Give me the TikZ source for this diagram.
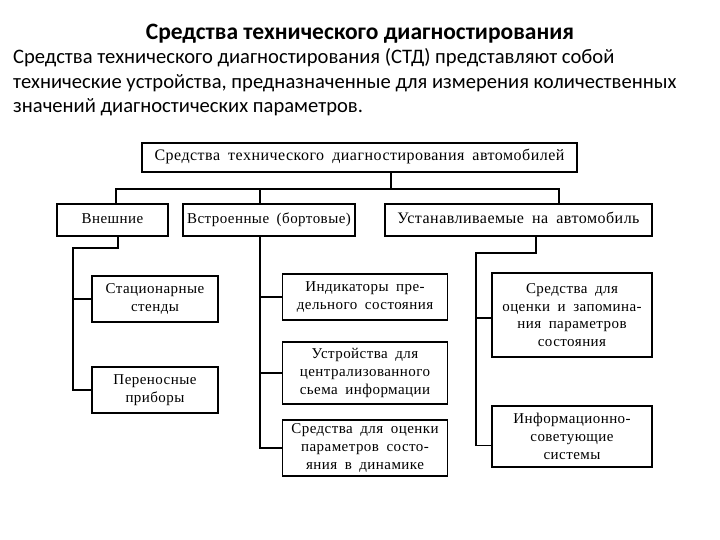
\documentclass[tikz,border=0pt]{standalone}
\usepackage{fontspec}
\setmainfont{Carlito}
\newfontfamily\scan[LetterSpace=3,WordSpace=1.8]{Liberation Serif}
\begin{document}
\begin{tikzpicture}[x=1bp,y=-1bp,
  box/.style={draw, line width=1.3bp, inner sep=1bp, align=center,
    font=\scan\fontsize{15bp}{17.7bp}\selectfont},
  bigbox/.style={box, font=\scan\fontsize{16bp}{17.7bp}\selectfont},
  oneline/.style={text height=10.5bp, text depth=3.5bp},
  wire/.style={line width=1.3bp},
  para/.style={anchor=base west, inner sep=0, font=\fontsize{20.6bp}{24bp}\selectfont}]
\useasboundingbox (0,0) rectangle (720,540);
\fill[white] (0,0) rectangle (720,540);

\node[anchor=base, inner sep=0, font=\bfseries\fontsize{23.5bp}{26bp}\selectfont] (title) at (360,40) {Средства технического диагностирования};
\node[para] (p1) at (13,64) {Средства технического диагностирования (СТД) представляют собой};
\node[para] (p2) at (13,88.5) {технические устройства, предназначенные для измерения количественных};
\node[para] (p3) at (13,113) {значений диагностических параметров.};

\node[bigbox, oneline, minimum width=435bp, minimum height=29bp] (top) at (359.5,157.5) {Средства технического диагностирования автомобилей};

\node[box, oneline, minimum width=111bp, minimum height=32bp] (vn) at (112.5,220) {Внешние};
\node[box, oneline, minimum width=172bp, minimum height=32bp] (vs) at (269,220) {Встроенные (бортовые)};
\node[bigbox, oneline, minimum width=267bp, minimum height=32bp] (us) at (518.5,220) {Устанавливаемые на автомобиль};

\node[box, minimum width=126bp, minimum height=46bp] (st) at (155,299) {Стационарные\\стенды};
\node[box, minimum width=126bp, minimum height=46bp] (pr) at (155,390) {Переносные\\приборы};

\node[box, minimum width=165bp, minimum height=46bp] (ind) at (365,297) {Индикаторы пре-\\дельного состояния};
\node[box, minimum width=165bp, minimum height=62bp] (ust) at (365,373) {Устройства для\\централизованного\\сьема информации};
\node[box, minimum width=165bp, minimum height=56bp] (sd) at (365,448) {Средства для оценки\\параметров состо-\\яния в динамике};

\node[box, minimum width=160bp, minimum height=84bp] (sz) at (572,315) {Средства для\\оценки и запомина-\\ния параметров\\состояния};
\node[box, minimum width=160bp, minimum height=61bp] (inf) at (572,436.5) {Информационно-\\советующие\\системы};

% bus
\coordinate (bus) at (391,189);
\coordinate (bl) at (116,189);
\coordinate (bm) at (260,189);
\coordinate (br) at (559,189);
\draw[wire] (top.south -| bus) -- (bus);
\draw[wire] (vn.north -| bl) -- (bl) -- (br) -- (us.north -| br);
\draw[wire] (bm) -- (vs.north -| bm);

% left column
\coordinate (lb) at (118,248);
\coordinate (lt) at (73,248);
\draw[wire] (vn.south -| lb) -- (lb) -- (lt) |- (pr.west);
\draw[wire] (st.west -| lt) -- (st.west);

% middle column
\coordinate (mt) at (260,236);
\draw[wire] (mt) |- (sd.west);
\draw[wire] (ind.west -| mt) -- (ind.west);
\draw[wire] (ust.west -| mt) -- (ust.west);

% right column
\coordinate (rb) at (536,253);
\coordinate (rt) at (476,253);
\draw[wire] (us.south -| rb) -- (rb) -- (rt) |- ([yshift=-9bp]inf.west);
\draw[wire] ([yshift=-3bp]sz.west -| rt) -- ([yshift=-3bp]sz.west);
\end{tikzpicture}
\end{document}
